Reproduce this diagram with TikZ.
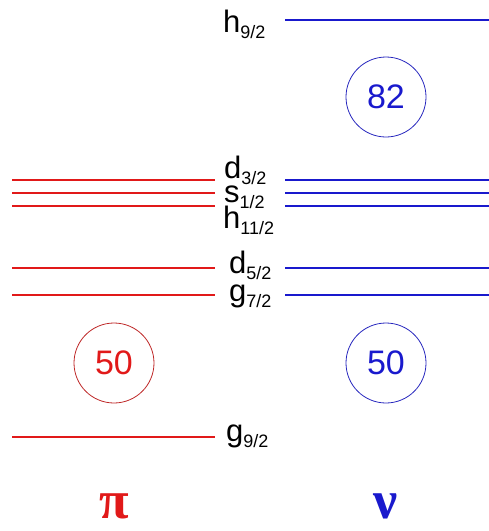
\documentclass[tikz,border=0pt]{standalone}
\usepackage{fontspec}
\setmainfont{Liberation Sans}
\newfontfamily\greekfont{Liberation Serif}
\definecolor{pred}{RGB}{225,25,25}
\definecolor{nblue}{RGB}{25,25,205}
\definecolor{cred}{RGB}{190,40,40}
\definecolor{cblue}{RGB}{40,40,190}
\newcommand{\lvl}[2]{\fontsize{31}{31}\selectfont #1\raisebox{-6pt}{\fontsize{18}{18}\selectfont #2}}
\begin{document}
\begin{tikzpicture}[x=1pt,y=-1pt,
  plev/.style={draw=pred,line width=2pt},
  nlev/.style={draw=nblue,line width=2pt},
  lab/.style={anchor=base west,inner sep=0pt,text=black},
  magic/.style={circle,minimum size=80pt,inner sep=0pt,line width=0.8pt,font=\fontsize{34}{34}\selectfont},
  greek/.style={font=\greekfont\bfseries\fontsize{54}{54}\selectfont}]
\useasboundingbox (0,0) rectangle (489,531);
% proton levels
\coordinate (pa1) at (12,180); \coordinate (pb1) at (215,180);
\coordinate (pa2) at (12,193); \coordinate (pb2) at (215,193);
\coordinate (pa3) at (12,206); \coordinate (pb3) at (215,206);
\coordinate (pa4) at (12,268); \coordinate (pb4) at (215,268);
\coordinate (pa5) at (12,295); \coordinate (pb5) at (215,295);
\coordinate (pa6) at (12,437); \coordinate (pb6) at (215,437);
\foreach \i in {1,...,6} \draw[plev] (pa\i) -- (pb\i);
% neutron levels
\coordinate (na0) at (285,20); \coordinate (nb0) at (489,20);
\coordinate (na1) at (285,180); \coordinate (nb1) at (489,180);
\coordinate (na2) at (285,193); \coordinate (nb2) at (489,193);
\coordinate (na3) at (285,206); \coordinate (nb3) at (489,206);
\coordinate (na4) at (285,268); \coordinate (nb4) at (489,268);
\coordinate (na5) at (285,295); \coordinate (nb5) at (489,295);
\foreach \i in {0,...,5} \draw[nlev] (na\i) -- (nb\i);
% labels
\node[lab] (h92) at (223,32) {\lvl{h}{9/2}};
\node[lab] (d32) at (224,178) {\lvl{d}{3/2}};
\node[lab] (s12) at (224,202) {\lvl{s}{1/2}};
\node[lab] (h112) at (223,228) {\lvl{h}{11/2}};
\node[lab] (d52) at (229,273) {\lvl{d}{5/2}};
\node[lab] (g72) at (229,301) {\lvl{g}{7/2}};
\node[lab] (g92) at (226,441) {\lvl{g}{9/2}};
% magic numbers
\node[magic,draw=cred,text=pred] (p50) at (114,363) {50};
\node[magic,draw=cblue,text=nblue] (n50) at (386,363) {50};
\node[magic,draw=cblue,text=nblue] (n82) at (386,97) {82};
% particle labels
\node[text=pred,greek] (pi) at (114,506) {π};
\node[text=nblue,greek] (nu) at (386,506) {ν};
\end{tikzpicture}
\end{document}
